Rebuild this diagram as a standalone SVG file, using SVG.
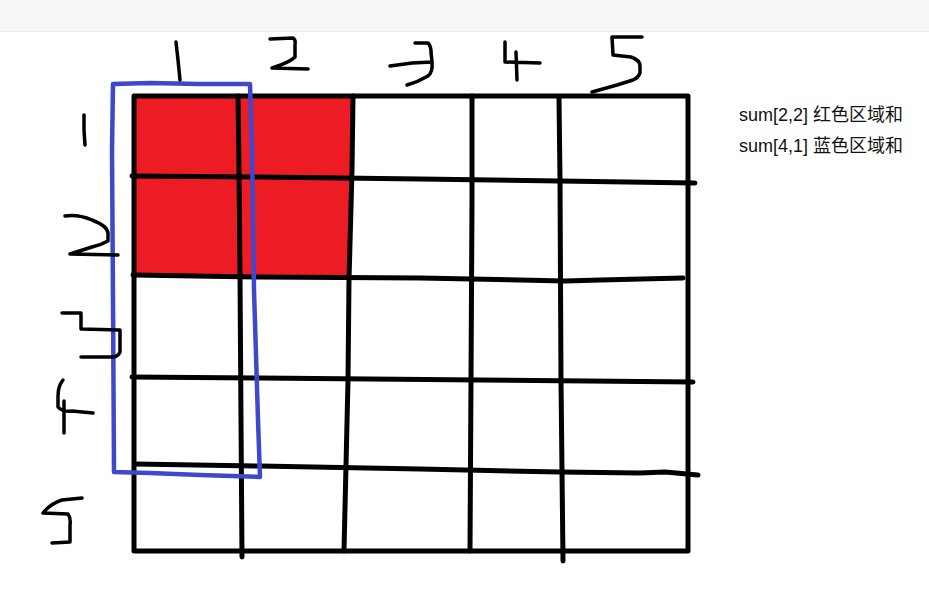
<svg xmlns="http://www.w3.org/2000/svg" width="929" height="605" viewBox="0 0 929 605">
<style>
.ink{fill:none;stroke:#000;stroke-width:5;stroke-linecap:round;stroke-linejoin:round}
.pen{fill:none;stroke:#000;stroke-width:3.5;stroke-linecap:round;stroke-linejoin:round}
.blue{fill:none;stroke:#3f48cc;stroke-width:4.5;stroke-linecap:round;stroke-linejoin:round}
.lbl{font-family:"Liberation Sans","Noto Sans CJK SC",sans-serif;font-size:18px;fill:#111}
</style>
<rect x="0" y="0" width="929" height="605" fill="#fff"/>
<rect x="0" y="0" width="929" height="31" fill="#f7f7f7"/>
<line x1="0" y1="31.5" x2="929" y2="31.5" stroke="#ececec" stroke-width="1"/>
<g id="red-region">
<polygon points="134,96 353,96 349,277 134,275" fill="#ed1c24"/>
</g>
<g id="grid">
<rect x="134" y="96" width="554" height="455" class="ink"/>
<polyline class="ink" points="238,96 239,170 240,275 241,420 242,557"/>
<polyline class="ink" points="353,96 352,170 349,280 348,380 344,551"/>
<polyline class="ink" points="472,96 472,200 471,380 470,551"/>
<polyline class="ink" points="559,98 560,180 561,380 563,561"/>
<polyline class="ink" points="132,176 260,177 420,179 560,181 695,183"/>
<polyline class="ink" points="133,275 260,277 420,278 565,281 600,280 683,278"/>
<polyline class="ink" points="132,377 260,378 480,380 693,382"/>
<polyline class="ink" points="135,464 260,466 420,469 560,472 640,473 665,472 698,475"/>
</g>
<g id="blue-region">
<polyline class="blue" points="113,84 150,83 200,84 250,84 252,150 254,290 258,420 260,477 200,475 150,473 114,472 113,300 112,150 113,84"/>
</g>
<g id="col-numbers">
<polyline class="pen" points="176,42 178,60 180,80"/>
<path class="pen" d="M270,39 L293,38 Q296,40 295,45 L295,57 Q290,62 275,67 L272,68 L308,69"/>
<path class="pen" d="M415,43 L428,43 Q431,46 431,52 L432,62 M390,66 L412,63 L432,62 Q433,72 428,76 Q418,82 407,85"/>
<path class="pen" d="M505,42 L505,62 L540,63 M516,52 L517,80"/>
<path class="pen" d="M642,37 L612,37 L613,55 L631,57 Q640,60 640,66 L640,73 Q638,78 633,80 L617,85 L592,92"/>
</g>
<g id="row-numbers">
<polyline class="pen" points="84,115 84,130 85,145"/>
<path class="pen" d="M65,216 Q78,214 92,220 Q108,226 108,234 L108,241 Q101,245 92,247 L70,254 L118,255"/>
<path class="pen" d="M62,313 L81,313 L81,329 L120,330 L120,352 Q118,357 112,357 L81,357"/>
<path class="pen" d="M63,380 Q58,386 58,396 L58,407 Q62,412 72,411 L93,413 M64,401 L64,433"/>
<path class="pen" d="M82,498 L62,500 Q50,504 43,513 L68,514 Q71,518 70,525 L70,542 L52,543"/>
</g>
<g id="legend">
<text class="lbl" x="739" y="121">sum[2,2] 红色区域和</text>
<text class="lbl" x="739" y="152">sum[4,1] 蓝色区域和</text>
</g>
</svg>
